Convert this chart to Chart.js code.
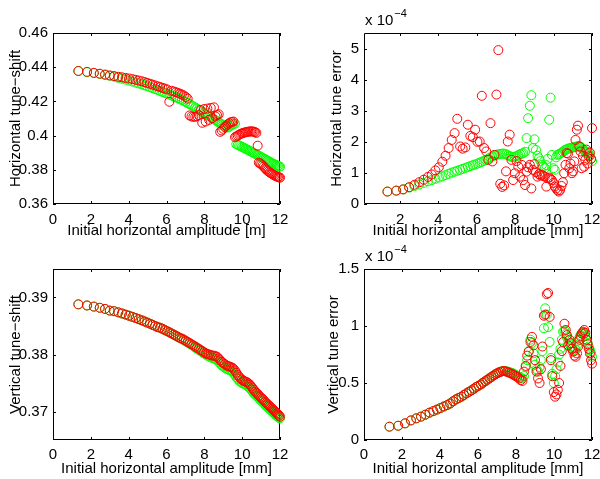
<!DOCTYPE html>
<html>
<head>
<meta charset="utf-8">
<script src="https://cdn.jsdelivr.net/npm/chart.js@4.4.1/dist/chart.umd.min.js"></script>
<style>
body{margin:0;background:#fff;}
#fig{position:relative;width:600px;height:479px;}
#fig canvas{position:absolute;}
</style>
</head>
<body>
<div id="fig">
<canvas id="c1" width="300" height="240" style="left:0;top:0"></canvas>
<canvas id="c2" width="300" height="240" style="left:300px;top:0"></canvas>
<canvas id="c3" width="300" height="239" style="left:0;top:240px"></canvas>
<canvas id="c4" width="300" height="239" style="left:300px;top:240px"></canvas>
</div>
<script>
// initial horizontal amplitude, shared by all four panels
var amp = [1.34,1.80,2.16,2.47,2.75,3.00,3.23,3.45,3.65,3.84,
	4.02,4.20,4.37,4.53,4.69,4.84,4.98,5.13,5.26,5.40,
	5.53,5.66,5.79,5.91,6.03,6.15,6.26,6.38,6.49,6.60,
	6.71,6.81,6.92,7.02,7.12,7.22,7.32,7.42,7.52,7.61,
	7.71,7.80,7.89,7.98,8.07,8.16,8.25,8.34,8.42,8.51,
	8.59,8.67,8.76,8.84,8.92,9.00,9.08,9.16,9.24,9.31,
	9.39,9.47,9.54,9.62,9.69,9.77,9.84,9.91,9.99,10.06,
	10.13,10.20,10.27,10.34,10.41,10.48,10.55,10.62,10.68,10.75,
	10.82,10.88,10.95,11.01,11.08,11.14,11.21,11.27,11.34,11.40,
	11.46,11.53,11.59,11.65,11.71,11.77,11.83,11.89,11.95,12.00];

// horizontal tune-shift
var hShiftRed = [0.4378,0.4373,0.4367,0.4362,0.4357,0.4352,0.4348,0.4344,0.4341,0.4337,
	0.4334,0.4330,0.4326,0.4322,0.4318,0.4313,0.4308,0.4303,0.4298,0.4293,
	0.4288,0.4284,0.4279,0.4275,0.4270,0.4198,0.4262,0.4258,0.4254,0.4250,
	0.4245,0.4240,0.4234,0.4226,0.4216,0.4118,0.4112,0.4110,0.4110,0.4113,
	0.4120,0.4150,0.4075,0.4155,0.4082,0.4158,0.4092,0.4162,0.4102,0.4165,
	0.4112,0.4120,0.4125,0.4022,0.4030,0.4040,0.4050,0.4058,0.4065,0.4072,
	0.4078,0.4080,0.4082,0.3990,0.3995,0.4000,0.4005,0.4010,0.4013,0.4016,
	0.4018,0.4020,0.4022,0.4023,0.4024,0.4025,0.4024,0.4023,0.4020,0.4016,
	0.3941,0.3842,0.3838,0.3832,0.3826,0.3818,0.3810,0.3802,0.3795,0.3790,
	0.3784,0.3780,0.3775,0.3771,0.3767,0.3764,0.3761,0.3758,0.3756,0.3754];
var hShiftGreen = [0.4378,0.4371,0.4366,0.4361,0.4355,0.4350,0.4345,0.4338,0.4333,0.4327,
	0.4322,0.4316,0.4310,0.4305,0.4300,0.4294,0.4289,0.4283,0.4278,0.4272,
	0.4267,0.4261,0.4255,0.4250,0.4245,0.4240,0.4235,0.4229,0.4224,0.4219,
	0.4213,0.4208,0.4202,0.4196,0.4190,0.4184,0.4178,0.4171,0.4164,0.4158,
	0.4151,0.4145,0.4138,0.4132,0.4126,0.4120,0.4114,0.4108,0.4102,0.4096,
	0.4090,0.4084,0.4078,0.4072,0.4066,0.4060,0.4055,0.4050,0.4047,0.4052,
	0.4058,0.4064,0.4068,0.4070,0.3950,0.3946,0.3942,0.3938,0.3934,0.3930,
	0.3926,0.3922,0.3918,0.3914,0.3910,0.3906,0.3902,0.3898,0.3894,0.3890,
	0.3886,0.3882,0.3878,0.3874,0.3870,0.3866,0.3862,0.3858,0.3854,0.3850,
	0.3846,0.3842,0.3838,0.3835,0.3832,0.3829,0.3826,0.3823,0.3820,0.3818];

// horizontal tune error (x 1e-4)
var hErrRed = [0.40,0.43,0.47,0.54,0.62,0.70,0.78,0.87,0.95,1.08,
	1.18,1.36,1.55,1.80,2.06,2.28,2.74,1.85,1.78,1.82,
	2.55,2.19,2.15,2.39,2.00,2.01,3.48,1.80,1.69,1.42,
	2.60,1.37,1.58,3.52,4.95,0.65,0.55,0.60,1.05,2.01,
	2.23,1.42,0.77,0.99,1.38,1.20,0.88,1.26,0.77,0.61,
	1.04,1.18,1.26,0.50,1.10,1.28,1.02,0.88,0.96,0.92,
	0.94,0.90,0.88,0.56,0.83,0.85,0.80,0.77,0.68,0.56,
	0.50,0.44,0.40,0.45,0.58,0.70,0.99,1.26,1.64,1.62,
	1.15,1.30,0.99,1.05,1.37,2.06,2.39,2.52,1.85,1.69,
	1.15,1.55,1.20,1.42,1.75,1.30,1.53,1.65,1.45,2.44];
var hErrGreen = [0.40,0.43,0.47,0.53,0.58,0.63,0.68,0.73,0.77,0.81,
	0.85,0.89,0.93,0.97,1.01,1.04,1.07,1.10,1.13,1.16,
	1.19,1.22,1.25,1.27,1.30,1.33,1.36,1.39,1.42,1.46,
	1.50,1.53,1.56,1.58,1.60,1.61,1.62,1.62,1.60,1.57,
	1.54,1.52,1.51,1.52,1.54,1.57,1.60,1.62,1.64,1.68,
	2.12,2.76,3.16,3.50,1.80,2.08,1.74,1.55,1.47,1.38,
	1.26,1.20,1.15,1.25,1.45,2.71,3.42,1.58,1.15,1.10,
	1.50,1.58,1.60,1.62,1.65,1.68,1.72,1.74,1.76,1.78,
	1.79,1.80,1.81,1.82,1.83,1.84,1.85,1.86,1.86,1.84,
	1.80,1.76,1.72,1.67,1.63,1.68,1.62,1.55,1.46,1.38];

// vertical tune-shift
var vShiftRed = [0.3888,0.3886,0.3884,0.3882,0.3880,0.3877,0.3876,0.3874,0.3872,0.3870,
	0.3868,0.3866,0.3864,0.3862,0.3860,0.3858,0.3856,0.3854,0.3852,0.3850,
	0.3848,0.3847,0.3845,0.3843,0.3841,0.3839,0.3837,0.3835,0.3833,0.3831,
	0.3829,0.3828,0.3826,0.3824,0.3822,0.3820,0.3818,0.3816,0.3814,0.3812,
	0.3810,0.3808,0.3806,0.3804,0.3802,0.3801,0.3800,0.3799,0.3798,0.3798,
	0.3797,0.3796,0.3793,0.3790,0.3787,0.3785,0.3783,0.3781,0.3780,0.3779,
	0.3778,0.3777,0.3775,0.3772,0.3768,0.3764,0.3761,0.3758,0.3756,0.3754,
	0.3753,0.3752,0.3751,0.3749,0.3747,0.3744,0.3741,0.3738,0.3735,0.3733,
	0.3731,0.3728,0.3726,0.3724,0.3722,0.3720,0.3717,0.3715,0.3713,0.3711,
	0.3709,0.3707,0.3705,0.3703,0.3701,0.3699,0.3697,0.3695,0.3693,0.3691];
var vShiftGreen = [0.3888,0.3886,0.3884,0.3882,0.3880,0.3877,0.3876,0.3874,0.3872,0.3870,
	0.3868,0.3866,0.3864,0.3862,0.3860,0.3858,0.3856,0.3854,0.3852,0.3850,
	0.3848,0.3847,0.3845,0.3843,0.3841,0.3839,0.3837,0.3835,0.3833,0.3831,
	0.3829,0.3827,0.3825,0.3823,0.3821,0.3819,0.3817,0.3815,0.3812,0.3810,
	0.3808,0.3806,0.3804,0.3802,0.3800,0.3798,0.3797,0.3795,0.3794,0.3793,
	0.3792,0.3790,0.3787,0.3784,0.3781,0.3779,0.3777,0.3775,0.3774,0.3773,
	0.3772,0.3771,0.3768,0.3764,0.3760,0.3757,0.3754,0.3752,0.3750,0.3749,
	0.3748,0.3747,0.3745,0.3743,0.3741,0.3738,0.3735,0.3732,0.3730,0.3728,
	0.3726,0.3723,0.3721,0.3719,0.3717,0.3715,0.3712,0.3710,0.3708,0.3706,
	0.3704,0.3702,0.3700,0.3698,0.3696,0.3694,0.3692,0.3691,0.3689,0.3688];

// vertical tune error (x 1e-4)
var vErrRed = [0.117,0.125,0.146,0.172,0.190,0.205,0.222,0.240,0.254,0.267,
	0.280,0.294,0.306,0.320,0.340,0.356,0.368,0.380,0.395,0.410,
	0.423,0.436,0.450,0.466,0.476,0.488,0.502,0.516,0.528,0.541,
	0.553,0.565,0.577,0.586,0.594,0.600,0.605,0.603,0.598,0.592,
	0.585,0.578,0.570,0.560,0.552,0.540,0.525,0.518,0.600,0.650,
	0.740,0.775,0.860,0.905,0.830,0.700,0.600,0.540,0.500,0.620,
	0.820,1.090,1.100,1.280,1.290,1.080,0.700,0.560,0.420,0.380,
	0.400,0.440,0.500,0.650,0.780,0.860,1.020,0.965,0.920,0.830,
	0.880,0.850,0.800,0.775,0.740,0.730,0.760,0.820,0.880,0.910,
	0.935,0.950,0.965,0.940,0.880,0.840,0.800,0.760,0.700,0.670];
var vErrGreen = [0.117,0.125,0.146,0.172,0.190,0.205,0.222,0.240,0.254,0.267,
	0.280,0.294,0.306,0.320,0.340,0.356,0.368,0.380,0.395,0.410,
	0.423,0.436,0.450,0.466,0.476,0.488,0.502,0.516,0.528,0.541,
	0.553,0.565,0.577,0.586,0.594,0.600,0.605,0.605,0.602,0.598,
	0.593,0.588,0.580,0.572,0.562,0.552,0.545,0.540,0.560,0.640,
	0.700,0.780,0.880,0.850,0.760,0.660,0.620,0.600,0.640,0.700,
	0.780,0.980,1.155,1.100,0.990,0.860,0.720,0.580,0.500,0.560,
	0.620,0.680,0.750,0.800,0.880,0.950,0.960,0.930,0.900,0.870,
	0.840,0.820,0.800,0.790,0.780,0.790,0.830,0.870,0.900,0.920,
	0.935,0.940,0.930,0.910,0.880,0.850,0.820,0.790,0.760,0.730];

// tick positions
var ampTicks = [0,2,4,6,8,10,12];
var ampTicksNoZero = [2,4,6,8,10,12];
var hShiftTicks = [0.36,0.38,0.40,0.42,0.44,0.46];
var hErrTicks = [0,1,2,3,4,5];
var vShiftTicks = [0.37,0.38,0.39];
var vErrTicks = [0,0.5,1,1.5];

Chart.defaults.font.family = '"Liberation Sans", Arial, Helvetica, sans-serif';
Chart.defaults.font.size = 15;
Chart.defaults.color = '#000';

function points(ys) {
	return amp.map(function(x, i) { return {x: x, y: ys[i]}; });
}

function fmt(v) {
	return parseFloat(v.toFixed(4)).toString();
}

// MATLAB style box with inward ticks on all sides, plus the "x 10^-4" note
var matlabBox = {
	id: 'matlabBox',
	beforeDatasetsDraw: function(chart) {
		var a = chart.chartArea, ctx = chart.ctx, tl = 3;
		var sx = chart.scales.x, sy = chart.scales.y;
		ctx.save();
		ctx.strokeStyle = '#000';
		ctx.lineWidth = 1;
		ctx.beginPath();
		ctx.rect(Math.round(a.left) + 0.5, Math.round(a.top) + 0.5,
			Math.round(a.right - a.left) - 1, Math.round(a.bottom - a.top) - 1);
		sx.ticks.forEach(function(t) {
			var p = Math.round(sx.getPixelForValue(t.value)) + 0.5;
			ctx.moveTo(p, a.bottom); ctx.lineTo(p, a.bottom - tl);
			ctx.moveTo(p, a.top); ctx.lineTo(p, a.top + tl);
		});
		sy.ticks.forEach(function(t) {
			var p = Math.round(sy.getPixelForValue(t.value)) + 0.5;
			ctx.moveTo(a.left, p); ctx.lineTo(a.left + tl, p);
			ctx.moveTo(a.right, p); ctx.lineTo(a.right - tl, p);
		});
		ctx.stroke();
		ctx.restore();
	},
	afterDraw: function(chart, args, opts) {
		if (!opts.exponent) return;
		var a = chart.chartArea, ctx = chart.ctx;
		ctx.save();
		ctx.fillStyle = '#000';
		ctx.textBaseline = 'alphabetic';
		ctx.font = '15px "Liberation Sans", Arial, sans-serif';
		var base = 'x 10';
		ctx.fillText(base, a.left + 1, a.top - 8);
		var w = ctx.measureText(base).width;
		ctx.font = '11px "Liberation Sans", Arial, sans-serif';
		ctx.fillText('\u22124', a.left + 2 + w, a.top - 16);
		ctx.restore();
	}
};

function axis(min, max, ticks, title, titlePad, size, isY, tickPad) {
	return {
		type: 'linear',
		min: min,
		max: max,
		afterBuildTicks: function(s) {
			s.ticks = ticks.map(function(v) { return {value: v}; });
		},
		afterFit: function(s) {
			if (isY) s.width = size; else s.height = size;
			s.paddingLeft = 0; s.paddingRight = 0; s.paddingTop = 0; s.paddingBottom = 0;
		},
		grid: {display: false, drawTicks: false},
		border: {display: false},
		ticks: {
			padding: tickPad,
			autoSkip: false,
			maxRotation: 0,
			callback: fmt
		},
		title: {
			display: true,
			text: title,
			padding: isY ? {top: titlePad} : {top: 0, bottom: titlePad}
		}
	};
}

function makeChart(id, red, green, xs, ys, pad, expo) {
	return new Chart(document.getElementById(id), {
		type: 'scatter',
		data: {
			datasets: [
				{label: 'red', data: points(red), borderColor: 'rgb(255,0,0)'},
				{label: 'green', data: points(green), borderColor: 'rgb(0,255,0)'}
			]
		},
		options: {
			responsive: false,
			animation: false,
			devicePixelRatio: 1,
			events: [],
			layout: {padding: pad},
			datasets: {
				scatter: {
					pointRadius: 4.5,
					pointBorderWidth: 1,
					backgroundColor: 'rgba(0,0,0,0)',
					pointBackgroundColor: 'rgba(0,0,0,0)',
					clip: false
				}
			},
			plugins: {
				legend: {display: false},
				tooltip: {enabled: false},
				matlabBox: {exponent: expo}
			},
			scales: {x: xs, y: ys}
		},
		plugins: [matlabBox]
	});
}

makeChart('c1', hShiftRed, hShiftGreen,
	axis(0, 12, ampTicks, 'Initial horizontal amplitude [m]', 0, 36, false, 7),
	axis(0.36, 0.46, hShiftTicks, 'Horizontal tune\u2212shift', 7, 53, true, 5),
	{left: 0, top: 33, right: 20, bottom: 0}, false);

makeChart('c2', hErrRed, hErrGreen,
	axis(0.12, 12, ampTicksNoZero, 'Initial horizontal amplitude [mm]', 0, 36, false, 7),
	axis(0, 5.5, hErrTicks, 'Horizontal tune error', 28, 64, true, 5),
	{left: 0, top: 33, right: 8, bottom: 0}, true);

makeChart('c3', vShiftRed, vShiftGreen,
	axis(0, 12, ampTicks, 'Initial horizontal amplitude [mm]', 1, 39, false, 6),
	axis(0.365, 0.395, vShiftTicks, 'Vertical tune\u2212shift', 7, 53, true, 5),
	{left: 0, top: 29, right: 20, bottom: 0}, false);

makeChart('c4', vErrRed, vErrGreen,
	axis(0, 12, ampTicks, 'Initial horizontal amplitude [mm]', 1, 39, false, 6),
	axis(0, 1.5, vErrTicks, 'Vertical tune error', 25, 64, true, 5),
	{left: 0, top: 29, right: 8, bottom: 0}, true);
</script>
</body>
</html>
